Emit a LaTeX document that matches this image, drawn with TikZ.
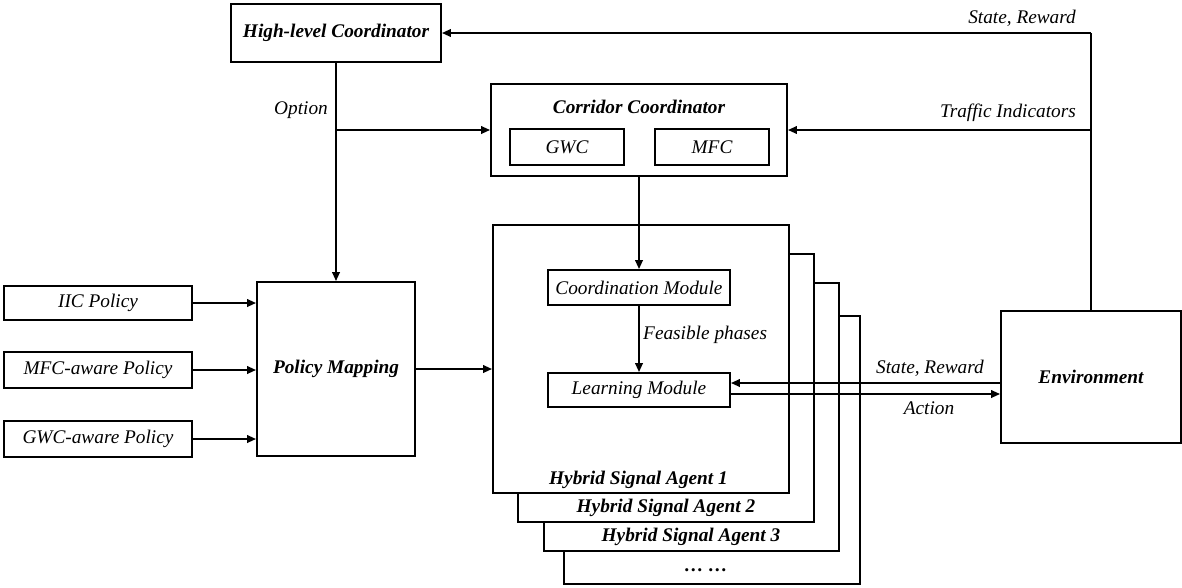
\documentclass[tikz,border=0pt]{standalone}
\usepackage{fontspec}
\setmainfont{Liberation Serif}
\usetikzlibrary{arrows.meta}
\tikzset{
  box/.style={draw, line width=1.8pt, fill=white, inner sep=0pt, anchor=center},
  txt/.style={font=\fontsize{19.3}{23}\selectfont\itshape, inner sep=0pt},
  btxt/.style={font=\fontsize{19.3}{23}\selectfont\bfseries\itshape, inner sep=0pt},
  conn/.style={line width=2pt, -{Triangle[length=9pt,width=7.5pt]}},
  wire/.style={line width=2pt},
}
\begin{document}
\begin{tikzpicture}[x=1pt, y=-1pt]
\useasboundingbox (0,0) rectangle (1182,587);

% coordinators
\node[box, minimum width=210pt, minimum height=58pt, btxt] (hlc) at (336,33) {High-level Coordinator};
\node[box, minimum width=296pt, minimum height=92pt] (cc) at (639,130) {};
\node[btxt] (cctitle) at (639,107) {Corridor Coordinator};
\node[box, minimum width=114pt, minimum height=36pt, txt] (gwc) at (567,147) {GWC};
\node[box, minimum width=114pt, minimum height=36pt, txt] (mfc) at (712,147) {MFC};

% policy library and mapping
\node[box, minimum width=188pt, minimum height=34pt, txt] (iic) at (98,303) {IIC Policy};
\node[box, minimum width=188pt, minimum height=36pt, txt] (mfcp) at (98,370) {MFC-aware Policy};
\node[box, minimum width=188pt, minimum height=36pt, txt] (gwcp) at (98,439) {GWC-aware Policy};
\node[box, minimum width=158pt, minimum height=174pt, btxt] (pm) at (336,369) {Policy Mapping};

% stack of hybrid signal agents
\node[box, minimum width=296pt, minimum height=268pt] (a4) at (712,450) {};
\node[btxt] (a4l) at (706,570) {\ldots\ \ldots};
\node[box, minimum width=295pt, minimum height=268pt] (a3) at (691.5,417) {};
\node[btxt] (a3l) at (691,537) {Hybrid Signal Agent 3};
\node[box, minimum width=296pt, minimum height=268pt] (a2) at (666,388) {};
\node[btxt] (a2l) at (666,508) {Hybrid Signal Agent 2};
\node[box, minimum width=296pt, minimum height=268pt] (a1) at (641,359) {};
\node[btxt] (a1l) at (638.5,480) {Hybrid Signal Agent 1};
\node[box, minimum width=182pt, minimum height=35pt, txt] (cm) at (639,287.5) {Coordination Module};
\node[box, minimum width=182pt, minimum height=34pt, txt] (lm) at (639,390) {Learning Module};

% environment
\node[box, minimum width=180pt, minimum height=132pt, btxt] (env) at (1091,377) {Environment};

% feedback from the environment
\coordinate (top) at (env.north |- hlc.east);
\coordinate (ti) at (env.north |- cc.east);
\draw[wire] (env.north) -- (top);
\draw[conn] (top) -- (hlc.east);
\draw[conn] (ti) -- (cc.east);
\node[txt, anchor=east] (lsr) at (1076,18) {State, Reward};
\node[txt, anchor=east] (lti) at (1076,113) {Traffic Indicators};

% options from the high-level coordinator
\coordinate (br) at (hlc.south |- cc.west);
\draw[conn] (hlc.south) -- (pm.north);
\draw[conn] (br) -- (cc.west);
\node[txt, anchor=east] (lopt) at (328,110) {Option};

% corridor coordinator to the agents
\draw[conn] (cc.south) -- (cm.north);
\draw[conn] (cm.south) -- (lm.north);
\node[txt, anchor=west] (lfp) at (643,335) {Feasible phases};

% agent -- environment interaction
\draw[conn] (env.west |- 0,383) -- (lm.east |- 0,383);
\draw[conn] (lm.east |- 0,394) -- (env.west |- 0,394);
\node[txt] (lsr2) at (930,368) {State, Reward};
\node[txt] (lact) at (929,408) {Action};

% policies into the mapping and on to the agents
\draw[conn] (iic.east) -- (pm.west |- iic.east);
\draw[conn] (mfcp.east) -- (pm.west |- mfcp.east);
\draw[conn] (gwcp.east) -- (pm.west |- gwcp.east);
\draw[conn] (pm.east) -- (a1.west |- pm.east);
\end{tikzpicture}
\end{document}
